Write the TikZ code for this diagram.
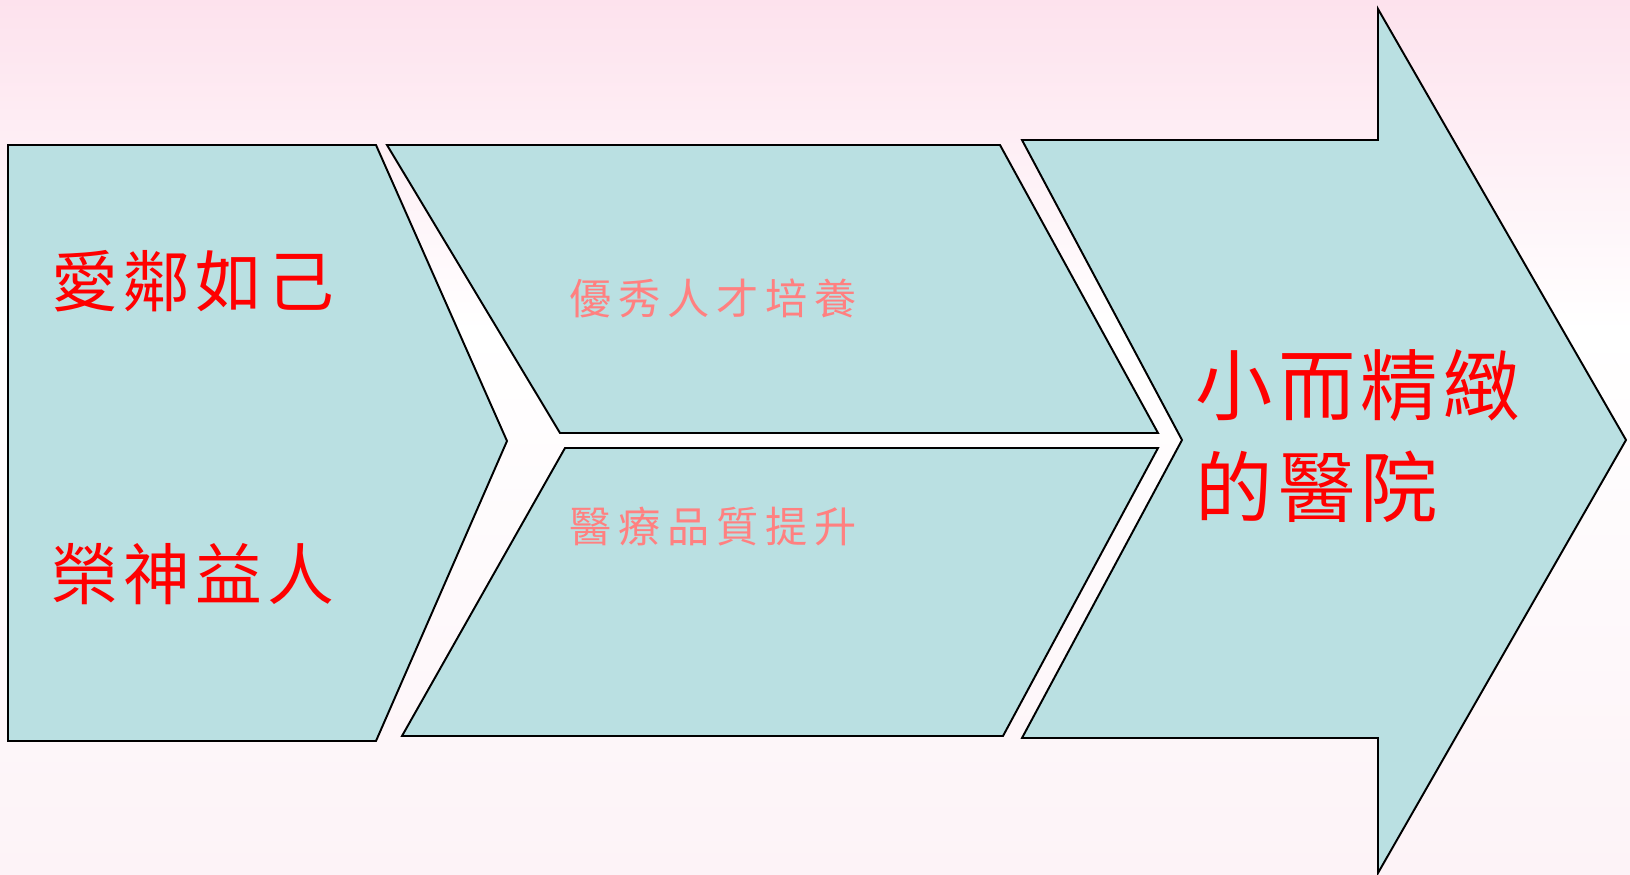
\documentclass[tikz,border=0pt]{standalone}
\usepackage{fontspec}
\newfontfamily\tcfont{Noto Sans CJK TC}
\usetikzlibrary{positioning}
\definecolor{panelfill}{RGB}{186,224,226}
\definecolor{bgpink}{RGB}{253,226,237}
\definecolor{bglow}{RGB}{253,243,247}
\definecolor{softred}{RGB}{255,128,128}

\begin{document}
\begin{tikzpicture}[x=0.02cm,y=-0.02cm,line join=miter,
  panel/.style={draw=black,line width=1.1pt,fill=panelfill},
  motto/.style={text=red,inner sep=0pt,font=\tcfont\addfontfeatures{LetterSpace=8}\fontsize{38}{46}\selectfont},
  goal/.style={text=softred,inner sep=0pt,font=\tcfont\addfontfeatures{LetterSpace=16}\fontsize{24}{30}\selectfont},
  vision/.style={text=red,inner sep=0pt,align=left,font=\tcfont\addfontfeatures{LetterSpace=7}\fontsize{44}{58}\selectfont}]
  \useasboundingbox (0,0) rectangle (1630,875);
  \shade[top color=bgpink,bottom color=white] (0,0) rectangle (1630,330);
  \shade[top color=white,bottom color=bglow] (0,330) rectangle (1630,875);

  \draw[panel] (8,145) -- (376,145) -- (507,441) -- (376,741) -- (8,741) -- cycle;
  \draw[panel] (387,145) -- (1000,145) -- (1158,433) -- (560,433) -- cycle;
  \draw[panel] (565,448) -- (1158,448) -- (1003,736) -- (402,736) -- cycle;
  \draw[panel] (1022,140) -- (1378,140) -- (1378,9) -- (1626,440) -- (1378,873)
    -- (1378,738) -- (1022,738) -- (1182,440) -- cycle;

  \node[motto](love) at (193,281) {愛鄰如己};
  \node[motto](glory)[below of=love,node distance=5.86cm] {榮神益人};
  \node[goal](talent) at (713,298) {優秀人才培養};
  \node[goal](quality)[below of=talent,node distance=4.58cm] {醫療品質提升};
  \node[vision,anchor=west](vision) at (1195,436) {小而精緻\\的醫院};
\end{tikzpicture}
\end{document}
